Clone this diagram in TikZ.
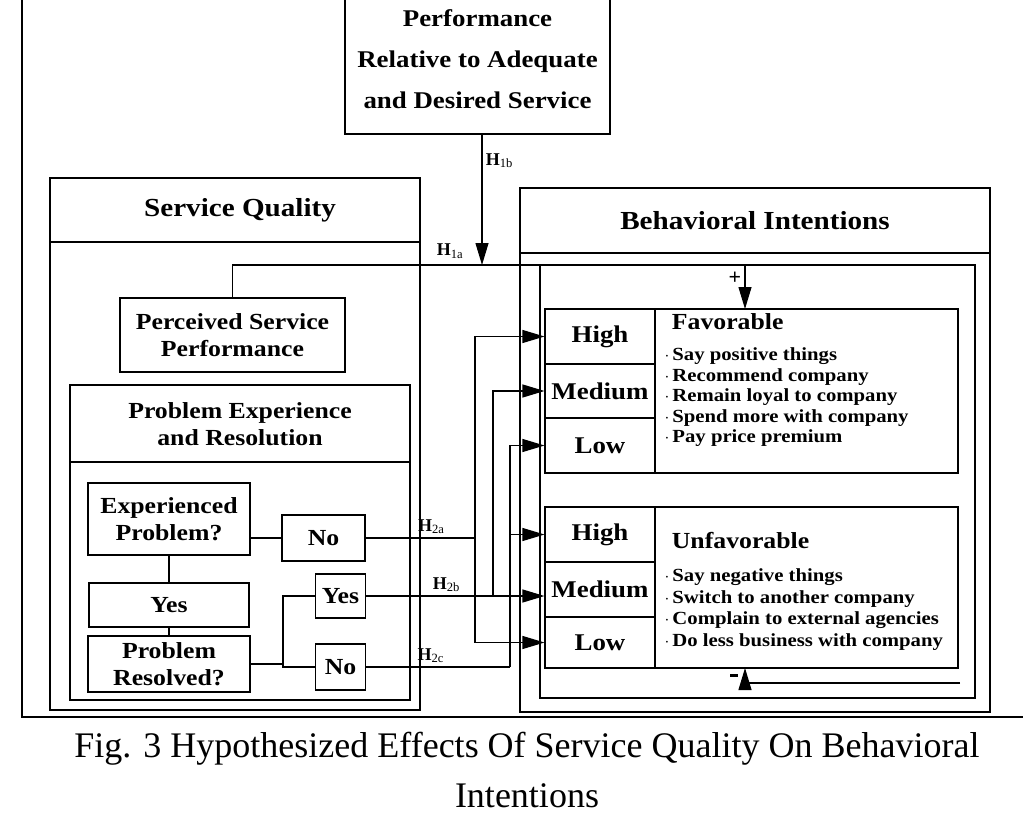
\documentclass[tikz,border=0pt]{standalone}
\usepackage{fontspec}
\setmainfont{Liberation Serif}
\usetikzlibrary{arrows.meta, positioning, calc}
\newcommand{\bfx}[2]{\fontsize{#1}{#2}\selectfont\bfseries\addfontfeature{FakeStretch=1.12}}
\tikzset{
  box/.style = {draw, line width=1.1pt, inner sep=0pt, font=\bfseries},
  lvl/.style = {box, minimum width=110pt, font=\bfx{24}{26}},
  hd/.style = {font=\bfx{26}{28}},
  sub/.style = {font=\bfx{23}{27}},
  itm/.style = {anchor=west, inner sep=0pt, font=\fontsize{18.5}{20}\selectfont\bfseries\addfontfeature{FakeStretch=1.12}},
  hyp/.style = {font=\fontsize{18}{18}\selectfont\bfseries},
  link/.style = {line width=1.1pt},
  arr/.style = {link, -{Triangle[length=22pt, width=13pt]}}
}
\begin{document}
\begin{tikzpicture}[x=1pt, y=-1pt, line width=1.1pt]
    \useasboundingbox (0,0) rectangle (1023,824);

    % Frame and caption
    \draw [line width=2.5pt] (22,0) -- (22,717) -- (1023,717);
    \node (cap) [align=center, font=\fontsize{36}{50}\selectfont] at (527,770)
        {Fig. 3 Hypothesized Effects Of Service Quality On Behavioral\\Intentions};

    % Performance box
    \node (perf) [box, minimum width=265pt, minimum height=150pt, align=center,
        font=\bfx{24}{41}] at (477.5,59)
        {Performance\\Relative to Adequate\\and Desired Service};

    % Service Quality side
    \draw (50,178) rectangle (420,710);
    \draw (50,242) -- (420,242);
    \node (sq) [hd] at (240,210) {Service Quality};
    \node (psp) [box, minimum width=225pt, minimum height=74pt, align=center,
        sub] at (232.5,335)
        {Perceived Service\\Performance};
    \draw (70,385) rectangle (410,700);
    \draw (70,462) -- (410,462);
    \node (pe) [sub, align=center] at (240,424)
        {Problem Experience\\and Resolution};
    \node (exp) [box, minimum width=162pt, minimum height=72pt, align=center,
        sub] at (169,519) {Experienced\\Problem?};
    \node (yes) [box, minimum width=160pt, minimum height=44pt,
        sub] at (169,605) {Yes};
    \node (res) [box, minimum width=162pt, minimum height=56pt, align=center,
        sub] at (169,664) {Problem\\Resolved?};
    \node (no1) [box, minimum width=83pt, minimum height=46pt,
        sub] at (323.5,538) {No};
    \node (yes2) [box, minimum width=50pt, minimum height=44pt,
        sub] at (340.5,596) {Yes};
    \node (no2) [box, minimum width=50pt, minimum height=46pt,
        sub] at (340.5,667) {No};
    \draw (exp) -- (yes) -- (res);
    \draw (exp.east |- no1) -- (no1);
    \coordinate (fork) at (283,664);
    \draw (res.east |- fork) -- (fork) |- (yes2);
    \draw (fork) |- (no2);

    % Behavioral Intentions side
    \draw (520,188) rectangle (990,712);
    \draw (520,253) -- (990,253);
    \node (bi) [hd] at (755,221) {Behavioral Intentions};
    \draw (540,265) rectangle (975,698);

    % Favorable group
    \draw (545,309) rectangle (958,473);
    \node (fh) [lvl, minimum height=55pt] at (600,336.5) {High};
    \node (fm) [lvl, minimum height=54pt] at (600,391) {Medium};
    \node (fl) [lvl, minimum height=55pt] at (600,445.5) {Low};
    \node (fav) [sub, anchor=west] at (668,322) {Favorable};
    \foreach \t [count=\i] in {Say positive things, Recommend company,
        Remain loyal to company, Spend more with company, Pay price premium}
        \node (f\i) [itm] at (664,336+20.5*\i) {$\cdot$\,\t};

    % Unfavorable group
    \draw (545,507) rectangle (958,668);
    \node (uh) [lvl, minimum height=55pt] at (600,534.5) {High};
    \node (um) [lvl, minimum height=55pt] at (600,589.5) {Medium};
    \node (ul) [lvl, minimum height=51pt] at (600,642.5) {Low};
    \node (unf) [sub, anchor=west] at (668,541) {Unfavorable};
    \foreach \t [count=\i] in {Say negative things, Switch to another company,
        Complain to external agencies, Do less business with company}
        \node (u\i) [itm] at (664,556+21.5*\i) {$\cdot$\,\t};

    % Hypothesis H1
    \coordinate (h1) at (482,265);
    \draw [arr] (perf.south -| h1) -- node [hyp, right, pos=0.2] {H$_{\mathrm{1b}}$} (h1);
    \draw (psp.north) |- (745,265);
    \node (h1a) [hyp] at (450,251) {H$_{\mathrm{1a}}$};
    \draw [arr] (745,265) -- node [hyp, left, pos=0.3, font=\fontsize{22}{22}\selectfont\bfseries] {+} (745,309);
    \draw [arr] (960,683) -| node [left=3pt, pos=0.75] {\rule{8pt}{2.2pt}} (745,668);

    % Hypothesis H2
    \coordinate (ja) at (475,538);
    \coordinate (jb) at (493,596);
    \coordinate (jc) at (510,667);
    \draw (no1) -- node [hyp, above, pos=0.6] {H$_{\mathrm{2a}}$} (ja);
    \draw [arr] (ja) |- (fh);
    \draw [arr] (ja) |- (ul);
    \draw [arr] (yes2) -- node [hyp, above, pos=0.45] {H$_{\mathrm{2b}}$} (um.west |- yes2);
    \draw [arr] (jb) |- (fm);
    \draw (no2) -- node [hyp, above, pos=0.45] {H$_{\mathrm{2c}}$} (jc);
    \draw [arr] (jc) |- (fl);
    \draw [arr] (jc |- uh) -- (uh);
\end{tikzpicture}
\end{document}
